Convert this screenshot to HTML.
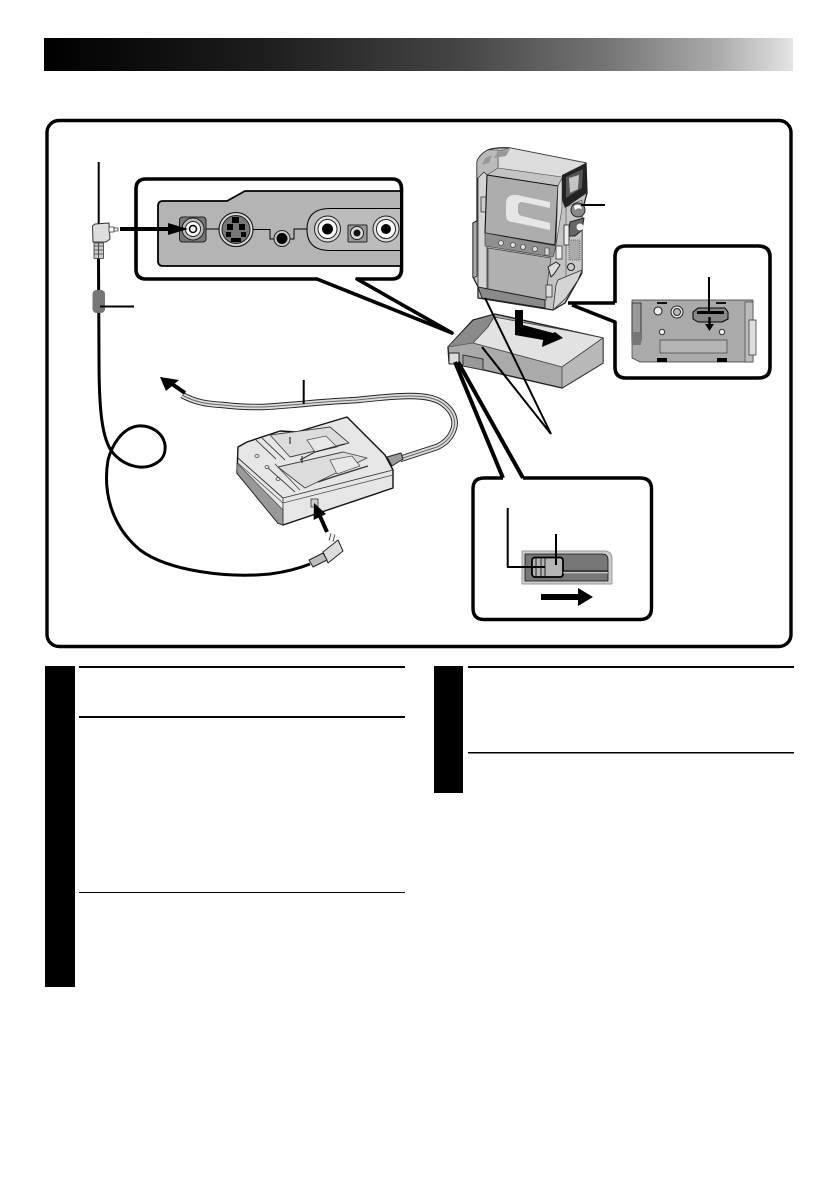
<!DOCTYPE html>
<html><head><meta charset="utf-8"><title>Diagram</title>
<style>html,body{margin:0;padding:0;background:#fff}svg{display:block}</style></head>
<body>
<svg width="839" height="1191" viewBox="0 0 839 1191" xmlns="http://www.w3.org/2000/svg" stroke-linejoin="round">
<defs><linearGradient id="g" x1="0" x2="1" y1="0" y2="0">
<stop offset="0" stop-color="#000"/><stop offset=".3" stop-color="#1e1e1e"/><stop offset=".55" stop-color="#444"/><stop offset=".75" stop-color="#747474"/><stop offset=".9" stop-color="#ababab"/><stop offset="1" stop-color="#e4e4e4"/></linearGradient></defs>
<rect width="839" height="1191" fill="#fff"/>
<rect x="44" y="38" width="749" height="33" fill="url(#g)"/>
<rect x="47" y="120.500" width="744" height="526" rx="12" fill="#fff" stroke="#000" stroke-width="3.400"/>

<!-- text column blocks -->
<rect x="45" y="666" width="30" height="321" fill="#000"/>
<rect x="79" y="666" width="326" height="2" fill="#000"/>
<rect x="79" y="716" width="326" height="2" fill="#000"/>
<rect x="79" y="892" width="326" height="1" fill="#000"/>
<rect x="434" y="666" width="29" height="127" fill="#000"/>
<rect x="468" y="666" width="326" height="2" fill="#000"/>
<rect x="468" y="752" width="326" height="1.500" fill="#000"/>

<!-- upper-left callout -->
<path d="M317 279 L146 279 Q136 279 136 269 L136 189 Q136 179 146 179 L392 179 Q401.500 179 401.500 189 L401.500 269 Q401.500 279 392 279 L357 279" fill="#fff" stroke="#000" stroke-width="3.600"/>
<path d="M317 279 L452 333M357 279 L452 333" fill="none" stroke="#000" stroke-width="3.600" stroke-linecap="round"/>
<path d="M400 191 L245 191 L227 201 L163 201 Q158 201 158 206 L158 261 Q158 266 163 266 L400 266" fill="#b4b4b4" stroke="#000" stroke-width="1.800"/>
<rect x="179.500" y="217" width="26.500" height="25" rx="3" fill="#777" stroke="#222"/>
<circle cx="193" cy="229" r="11" fill="#bbb" stroke="#222"/>
<circle cx="193" cy="229" r="7.500" fill="#fff" stroke="#222"/>
<circle cx="193" cy="229" r="3.500" fill="#fff" stroke="#000" stroke-width="1.500"/>
<circle cx="236" cy="229.500" r="17" fill="#ddd" stroke="#222" stroke-width="1.200"/>
<circle cx="236" cy="229.500" r="14" fill="#777" stroke="#222"/>
<g fill="#000"><rect x="232" y="217" width="7" height="6"/><rect x="227" y="224" width="6" height="6"/><rect x="239" y="224" width="6" height="6"/><rect x="226" y="232" width="5" height="5"/><rect x="241" y="232" width="5" height="5"/><rect x="231" y="238" width="10" height="4"/></g>
<path d="M206 229H219M253 229.500H270V239H274M290 239H294V229H307" fill="none" stroke="#000" stroke-width="1"/>
<circle cx="282" cy="238.500" r="8" fill="#ccc" stroke="#222"/><circle cx="282" cy="238.500" r="5.500" fill="#000"/>
<path d="M400 208.500H330Q307 208.500 307 229.500Q307 250.500 330 250.500H400" fill="#bcbcbc" stroke="#000" stroke-width="1"/>
<circle cx="327.500" cy="229" r="13" fill="#ddd" stroke="#222"/><circle cx="327.500" cy="229" r="9.500" fill="#fff" stroke="#222"/><circle cx="327.500" cy="229" r="5.500" fill="#000"/>
<rect x="348" y="225" width="19" height="17" rx="1" fill="#999" stroke="#222"/><circle cx="357" cy="233" r="6.500" fill="#ddd" stroke="#222"/><circle cx="357" cy="233" r="3.500" fill="#111"/>
<circle cx="386" cy="229" r="13" fill="#ddd" stroke="#222"/><circle cx="386" cy="229" r="9.500" fill="#fff" stroke="#222"/><circle cx="386" cy="229" r="5" fill="#000"/>
<path d="M168 223L188 229L168 235Z" fill="#000"/><rect x="120" y="227" width="50" height="4" fill="#000"/>

<!-- main cable -->
<path d="M98.500 258L99 360C99 410 102 440 113 453C124 466 140 469 150 466C162 462 166 455 165 445C163 432 150 425 138 426C122 428 112 445 108 460C103 490 110 525 140 550C170 572 230 578 270 574C285 572 300 568 310 564" fill="none" stroke="#000" stroke-width="3"/>
<rect x="92.500" y="290" width="12.500" height="23" rx="4" fill="#777"/>
<path d="M100 306.500H134" stroke="#000" stroke-width="2"/>
<path d="M98.700 162V226" stroke="#000" stroke-width="2"/>
<rect x="94" y="243" width="9.500" height="15.500" fill="#ccc" stroke="#333" stroke-width=".800"/>
<path d="M94 246H103M94 250H103M94 254H103M98.500 243V258" stroke="#333" stroke-width=".800"/>
<path d="M92.500 226L95 224L109 223L110 239L106 242H93Z" fill="#ddd" stroke="#333"/>
<rect x="109" y="227" width="5" height="5" fill="#fff" stroke="#333" stroke-width=".800"/>
<rect x="114" y="228" width="4" height="3" fill="#fff" stroke="#333" stroke-width=".800"/>

<!-- adapter cord -->
<path d="M182 395C195 402 205 404 223 405C240 407 250 407 263 407C280 406 290 405 303 404C320 402 340 401 357 400C375 398 395 396 410 396C425 396 437 398 445 405C453 412 456 420 454 428C451 438 445 443 437 447C425 451 412 455 400 459" fill="none" stroke="#222" stroke-width="6.500"/>
<path d="M182 395C195 402 205 404 223 405C240 407 250 407 263 407C280 406 290 405 303 404C320 402 340 401 357 400C375 398 395 396 410 396C425 396 437 398 445 405C453 412 456 420 454 428C451 438 445 443 437 447C425 451 412 455 400 459" fill="none" stroke="#ddd" stroke-width="4.600"/>
<path d="M182 395C195 402 205 404 223 405C240 407 250 407 263 407C280 406 290 405 303 404C320 402 340 401 357 400C375 398 395 396 410 396C425 396 437 398 445 405C453 412 456 420 454 428C451 438 445 443 437 447C425 451 412 455 400 459" fill="none" stroke="#666" stroke-width="1"/>
<path d="M303.700 380V404" stroke="#000" stroke-width="2"/>
<path d="M185 393L172 384" stroke="#000" stroke-width="4"/>
<path d="M160 377L179 380L166 391Z" fill="#000"/>

<!-- charger -->
<path d="M238 447L247 442L280 431L297 432L347 417L385 455L393 470L393 488L283 525L278 523L237 473Z" fill="#e6e6e6" stroke="#111" stroke-width="1.400"/>
<path d="M237 463L283 510V525L278 523L237 473Z" fill="#999" stroke="#333" stroke-width=".600"/>
<path d="M238 458L283 498L393 470" fill="none" stroke="#333" stroke-width=".900"/>
<path d="M238 463L283 503L393 475" fill="none" stroke="#555" stroke-width=".800"/>
<path d="M283 498V525" stroke="#333" stroke-width=".800"/>
<path d="M270 435L330 427L349 443L290 457Z" fill="#dcdcdc" stroke="#444" stroke-width=".900"/>
<path d="M278 467L343 452L367 458L305 488Z" fill="#dcdcdc" stroke="#444" stroke-width=".900"/>
<path d="M262 438L285 460M256 440L276 459M275 464L300 490M268 468L295 492" stroke="#444" stroke-width=".900"/>
<path d="M307 440L326 436L337 447L315 452ZM330 460L352 456L360 466L337 474Z" fill="#e8e8e8" stroke="#555" stroke-width=".800"/>
<path d="M300 460L315 452L345 444M318 482L336 476L368 466" fill="none" stroke="#333" stroke-width="1.200"/>
<path d="M290 437V444M302 456V463" stroke="#333" stroke-width="1.200"/>
<g fill="none" stroke="#444" stroke-width=".800"><ellipse cx="257" cy="456" rx="2" ry="1.500"/><ellipse cx="267" cy="467" rx="2" ry="1.500"/><ellipse cx="278" cy="479" rx="2" ry="1.500"/></g>
<rect x="311" y="499" width="7" height="8" fill="#ccc" stroke="#333" stroke-width=".800"/>
<path d="M387 457L401 453L403 459L392 466Z" fill="#999" stroke="#222"/>

<!-- plug 2 -->
<path d="M331 541L333 534" stroke="#333" stroke-width="5"/><path d="M331 541L333 534" stroke="#eee" stroke-width="3.400"/>
<path d="M323 552L338 540L343 551L328 563Z" fill="#ddd" stroke="#222"/>
<path d="M309 560L323 553L327 560L313 567Z" fill="#bbb" stroke="#222"/>
<path d="M327 532L319 514" stroke="#000" stroke-width="4"/>
<path d="M314 503L326 514L313.600 520Z" fill="#000"/>

<!-- battery -->
<path d="M448 347L473 320L495 314L603 338L603 363L562 388L449 362Z" fill="#aaa" stroke="#222" stroke-width="1.400"/>
<path d="M448 347L473 321L493 315L500 318L488 327L473 343Z" fill="#8a8a8a"/>
<path d="M473 343L488 327L494 317L570 331L603 338L562 367Z" fill="#e2e2e2" stroke="#444" stroke-width=".800"/>
<path d="M562 367L603 338V363L562 388Z" fill="#b8b8b8" stroke="#333" stroke-width=".700"/>
<path d="M448 347L473 343L562 367" fill="none" stroke="#555" stroke-width=".800"/>
<rect x="449" y="353" width="10" height="11" fill="#ddd" stroke="#222"/>
<path d="M463 355L483 359V370L463 366Z" fill="#999" stroke="#333"/>
<path d="M515 310H523V325L553 333L555 332L563 338L542 347L543 340L515 335Z" fill="#000"/>

<!-- camera -->
<path d="M477 162Q479 155 488 150Q496 147 510 148L586 163L587 193L582 212L582 273L565 303L553 310L478 298L478 287L473 277L473 223L477 221Z" fill="#c4c4c4" stroke="#222" stroke-width="1.300"/>
<path d="M498 151L510 148L586 163L562 177L498 168Z" fill="#dcdcdc" stroke="#444" stroke-width=".600"/>
<path d="M477 162Q479 155 488 150L498 150L498 168L487 175L477 178Z" fill="#bbb" stroke="#444" stroke-width=".600"/>
<path d="M498 151L510 149L506 156L494 158ZM485 158L492 155L489 163L482 165Z" fill="#999"/>
<path d="M478 178L484 172L487 175V291L478 287Z" fill="#d4d4d4" stroke="#333" stroke-width=".800"/>
<rect x="481" y="197" width="5" height="15" fill="#ccc" stroke="#333" stroke-width=".800"/>
<path d="M487 175L558 186L555 245L485 233Z" fill="#adadad" stroke="#111" stroke-width="1.100"/>
<path d="M550 202L517 195Q506 194 506 204V215Q506 222 513 222L550 230V223L522 216Q518 215 518 211V206Q518 202 522 202L550 208Z" fill="#e6e6e6"/>
<path d="M558 186L562 178L562 208L556 245Z" fill="#dcdcdc" stroke="#444" stroke-width=".600"/>
<path d="M562 175L586 163L587 193L565 208L562 200Z" fill="#222"/>
<path d="M566 177L583 169L582 188L566 198Z" fill="#555"/>
<path d="M569 178L579 175L578 189L570 193Z" fill="#c4c4c4"/>
<path d="M485 233L556 246L553 257L485 246Z" fill="#909090" stroke="#333" stroke-width=".600"/>
<g fill="#ddd" stroke="#333" stroke-width=".600"><circle cx="501" cy="243" r="2.500"/><circle cx="513" cy="245" r="2.500"/><circle cx="523" cy="247" r="2.500"/><circle cx="535" cy="249" r="2.500"/><rect x="545" y="248" width="4" height="7"/></g>
<path d="M488 248L551 258L548 278L546 300L488 290Z" fill="#b0b0b0" stroke="#444" stroke-width=".800"/>
<path d="M478 287L545 300V308L482 298Z" fill="#8a8a8a" stroke="#222"/>
<path d="M566 207L582 200V273L566 280Z" fill="#c8c8c8" stroke="#444" stroke-width=".600"/>
<circle cx="578" cy="210" r="7" fill="#888" stroke="#222"/><path d="M574 206Q581 203 582 209Q578 207 575 210Z" fill="#fff"/>
<path d="M570 222L584 218L582 230L575 236L568 236Z" fill="#666" stroke="#222"/>
<circle cx="580" cy="227" r="3.500" fill="#eee"/>
<rect x="564" y="225" width="5" height="20" fill="#eee" stroke="#222" stroke-width=".800"/>
<rect x="569" y="240" width="11" height="20" fill="#aaa" stroke="#555" stroke-dasharray="1 1" stroke-width=".800"/>
<circle cx="571" cy="267" r="3.500" fill="#ccc" stroke="#222"/>
<rect x="556" y="246" width="6" height="13" fill="#eee" stroke="#222" stroke-width=".700"/>
<path d="M548 267L556 262L560 265L554 274L551 277Z" fill="#ddd" stroke="#222"/>
<path d="M558 280L582 270L578 280L566 298L553 310L556 285Z" fill="#d4d4d4" stroke="#333" stroke-width=".800"/>
<rect x="546" y="285" width="6" height="12" fill="#ddd" stroke="#222" stroke-width=".700"/>
<path d="M473 223L477 221V276L473 278Z" fill="#aaa" stroke="#222" stroke-width=".700"/>
<path d="M581 205H605" stroke="#000" stroke-width="2"/>
<path d="M485 298L551 434M482 347L551 434" fill="none" stroke="#000" stroke-width="2"/>

<!-- right inset -->
<path d="M615 303V257Q615 246 626 246H758Q770 246 770 257V367Q770 378 758 378H626Q615 378 615 367V322L572 305M615 303H568" fill="#fff" stroke="#000" stroke-width="3.600"/>
<path d="M632 300H753V362H640L632 358Z" fill="#aaa" stroke="#333" stroke-width=".700"/>
<rect x="632" y="303" width="9" height="38" fill="#999" stroke="#222" stroke-width=".800"/>
<rect x="632" y="332" width="9" height="13" fill="#777"/>
<rect x="745" y="302" width="8" height="60" fill="#bbb" stroke="#444" stroke-width=".700"/>
<rect x="749" y="320" width="7" height="35" fill="#ddd" stroke="#333" stroke-width=".700"/>
<circle cx="658" cy="311" r="4" fill="#eee" stroke="#222"/>
<circle cx="677" cy="312" r="6" fill="#eee" stroke="#222"/><circle cx="677" cy="312" r="3.500" fill="#bbb" stroke="#222"/>
<path d="M693 312L698 308H725L728 312V319L722 322H698L693 319Z" fill="#888" stroke="#000"/>
<rect x="697" y="311" width="27" height="3" fill="#000"/>
<circle cx="662" cy="332" r="2.700" fill="#eee" stroke="#333"/><circle cx="722" cy="332" r="2.700" fill="#eee" stroke="#333"/>
<rect x="660" y="340" width="67" height="13" fill="#b4b4b4" stroke="#444" stroke-width=".700"/>
<rect x="657" y="358" width="10" height="4" fill="#000"/><rect x="717" y="358" width="10" height="4" fill="#000"/>
<rect x="657" y="302" width="10" height="2" fill="#111"/><rect x="716" y="302" width="10" height="2" fill="#111"/>
<path d="M709 277V312" stroke="#000" stroke-width="2"/>
<path d="M709.500 317V325" stroke="#000" stroke-width="2.400"/><path d="M705 324H714L709.500 331Z" fill="#000"/>

<!-- switch callout -->
<path d="M503 478H484Q473 478 473 489V608Q473 619.500 484 619.500H640Q651.500 619.500 651.500 608V489Q651.500 478 640 478H523" fill="#fff" stroke="#000" stroke-width="3.400"/>
<path d="M503 478L455 362M523 478L458 362" fill="none" stroke="#000" stroke-width="4"/>
<path d="M522 551H604Q612 551 612 559V584H522Z" fill="#ccc" stroke="#999"/>
<path d="M525 554H602Q608 554 608 560V581H525Z" fill="#777" stroke="#111" stroke-width=".800"/>
<rect x="532" y="557.500" width="31" height="19.500" rx="3" fill="#b4b4b4" stroke="#000" stroke-width="1.800"/>
<path d="M536 558V577M541 558V577M545 558V577" stroke="#000" stroke-width=".800"/>
<path d="M563 571H608" stroke="#000" stroke-width="1"/><path d="M563 572.800H608" stroke="#ddd" stroke-width="1"/>
<path d="M507.700 508V567H545" fill="none" stroke="#000" stroke-width="2"/>
<path d="M556 534V565" stroke="#000" stroke-width="2"/>
<rect x="541" y="594" width="38" height="6" fill="#000"/>
<path d="M578 588L593 597L578 606Z" fill="#000"/>
</svg>
</body></html>
